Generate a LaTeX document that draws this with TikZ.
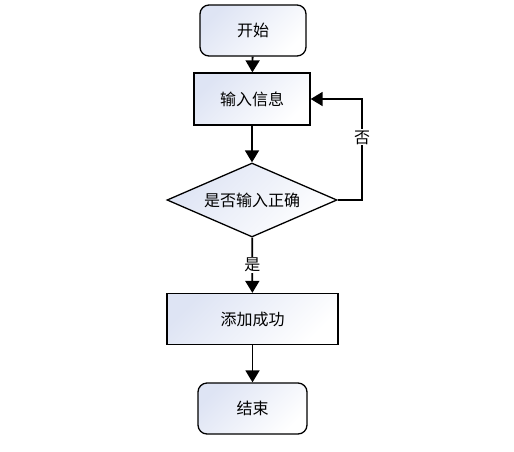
\documentclass[tikz,border=0pt]{standalone}
\usepackage{fontspec}
\setmainfont{Noto Sans CJK SC}
\usetikzlibrary{shapes.geometric,arrows.meta}
\definecolor{shadeblue}{RGB}{222,228,244}
\begin{document}
\begin{tikzpicture}[x=1pt, y=-1pt,
        base/.style={draw, line width=1.3pt, align=center, font=\fontsize{16}{19}\selectfont, left color=shadeblue, right color=white, shading angle=45, inner sep=0pt},
        term/.style={base, rectangle, rounded corners=9pt},
        proc/.style={base, rectangle},
        decide/.style={base, diamond, aspect=2.3},
        arrow/.style={line width=1.8pt, -{Triangle[length=12pt,width=14pt]}},
        lbl/.style={fill=white, inner sep=1pt, font=\fontsize{16}{19}\selectfont}
    ]
        \useasboundingbox (0,0) rectangle (514,451);

        \node[term, minimum width=106pt, minimum height=51pt] (start) at (253, 30.5) {开始};
        \node[proc, minimum width=116pt, minimum height=52pt] (input) at (252, 99) {输入信息};
        \node[decide, minimum width=170pt, minimum height=74pt] (check) at (252, 200) {是否输入正确};
        \node[proc, minimum width=171pt, minimum height=51pt] (done) at (252.5, 319) {添加成功};
        \node[term, minimum width=109pt, minimum height=51pt] (stop) at (252.5, 408.5) {结束};

        \coordinate (loop) at (362, 200);

        \draw[arrow] (start) -- (input);
        \draw[arrow] (input) -- (check);
        \draw[arrow] (check) -- node[lbl, pos=0.5] {是} (done);
        \draw[arrow] (done) -- (stop);
        \draw[arrow] (check.east) -- (loop) |- node[lbl, pos=0.31] {否} (input.east);
    \end{tikzpicture}
\end{document}
